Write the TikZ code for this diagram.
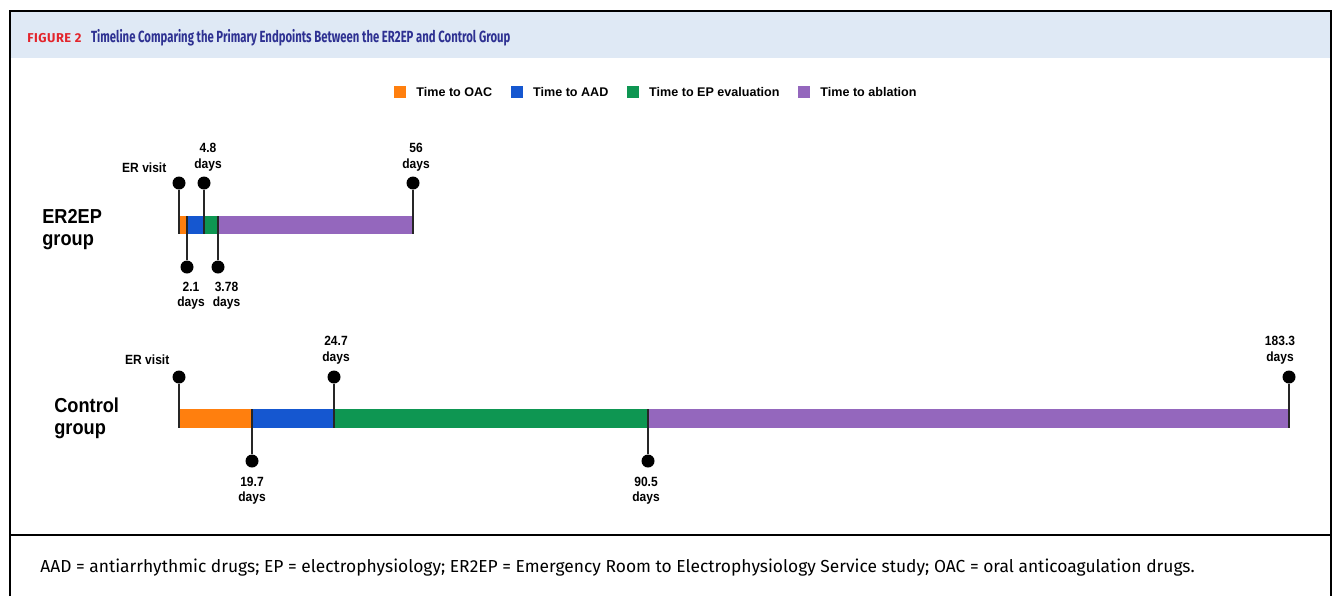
\documentclass[tikz,border=0pt]{standalone}
\usepackage{fontspec}
\setmainfont{Liberation Sans}
\newfontfamily\labelfont[FakeStretch=0.9]{Liberation Sans}
\newfontfamily\headfont[LetterSpace=4]{Fira Sans}
\newfontfamily\captionfont[FakeStretch=0.7]{Fira Sans}
\newfontfamily\notefont{Fira Sans}
\usepackage{xcolor}
\usepackage{tikz}
\usetikzlibrary{positioning}

\definecolor{oaccolor}{HTML}{FF7F0E}
\definecolor{aadcolor}{HTML}{1557D0}
\definecolor{epcolor}{HTML}{0E9652}
\definecolor{ablcolor}{HTML}{9467BD}
\definecolor{headerbg}{HTML}{DFE9F5}
\definecolor{figred}{HTML}{E3242B}
\definecolor{titleblue}{HTML}{2E3192}

\begin{document}
\begin{tikzpicture}[
        x=0.02cm, y=-0.02cm,
        pin/.style={circle, fill=black, inner sep=0pt, minimum size=0.26cm},
        stem/.style={draw=black!85, line width=0.7pt},
        tag/.style={font=\labelfont\bfseries\fontsize{7.6}{8.6}\selectfont, align=center, inner sep=0pt},
        grouplabel/.style={font=\labelfont\bfseries\fontsize{11.5}{12.6}\selectfont, align=left, inner sep=0pt, anchor=west},
        keybox/.style={minimum size=0.23cm, inner sep=0pt},
        keytext/.style={font=\bfseries\fontsize{7.15}{9}\selectfont, inner sep=0pt},
        frame/.style={line width=1.1pt}
    ]
    \useasboundingbox (0,0) rectangle (1337,596);

    % Rahmen und Kopfzeile
    \fill[headerbg] (10,11) rectangle (1331,58);
    \draw[frame] (10,596) -- (10,11) -- (1331,11) -- (1331,596);
    \draw[frame] (10,535) -- (1331,535);

    % Titel
    \node[anchor=base west, inner sep=0pt, text=figred, font=\headfont\bfseries\fontsize{7.3}{9}\selectfont] (fignum) at (27,42) {FIGURE 2};
    \node[base right=0.18cm of fignum, inner sep=0pt, text=titleblue, font=\captionfont\bfseries\fontsize{9.2}{11}\selectfont] (figtitle) {Timeline Comparing the Primary Endpoints Between the ER2EP and Control Group};

    % Legende
    \node[keybox, fill=oaccolor] (keyOAC) at (400,92) {};
    \node[keytext, right=0.2cm of keyOAC] (textOAC) {Time to OAC};
    \node[keybox, fill=aadcolor, right=0.36cm of textOAC] (keyAAD) {};
    \node[keytext, right=0.2cm of keyAAD] (textAAD) {Time to AAD};
    \node[keybox, fill=epcolor, right=0.36cm of textAAD] (keyEP) {};
    \node[keytext, right=0.2cm of keyEP] (textEP) {Time to EP evaluation};
    \node[keybox, fill=ablcolor, right=0.36cm of textEP] (keyAbl) {};
    \node[keytext, right=0.2cm of keyAbl] (textAbl) {Time to ablation};

    % ER2EP-Gruppe
    \node[grouplabel] (erGroup) at (42,230) {ER2EP\\group};
    \fill[oaccolor] (179,216) rectangle (187,234);
    \fill[aadcolor] (187,216) rectangle (204,234);
    \fill[epcolor] (204,216) rectangle (218,234);
    \fill[ablcolor] (218,216) rectangle (413,234);

    \node[pin] (erVisit) at (179,183) {};
    \node[pin] (erOAC) at (187,267) {};
    \node[pin] (erAAD) at (204,183) {};
    \node[pin] (erEP) at (218,267) {};
    \node[pin] (erAbl) at (413,183) {};
    \coordinate (erVisitEnd) at (179,234);
    \coordinate (erOACEnd) at (187,216);
    \coordinate (erAADEnd) at (204,234);
    \coordinate (erEPEnd) at (218,216);
    \coordinate (erAblEnd) at (413,234);
    \draw[stem] (erVisit) -- (erVisitEnd);
    \draw[stem] (erOAC) -- (erOACEnd);
    \draw[stem] (erAAD) -- (erAADEnd);
    \draw[stem] (erEP) -- (erEPEnd);
    \draw[stem] (erAbl) -- (erAblEnd);

    \node[tag, above left=0.11cm and 0.15cm of erVisit] (erVisitLab) {ER visit};
    \node[tag, above=0.1cm of erAAD, xshift=0.08cm] (erAADLab) {4.8\\days};
    \node[tag, above=0.1cm of erAbl, xshift=0.06cm] (erAblLab) {56\\days};
    \node[tag, below=0.16cm of erOAC, xshift=0.08cm] (erOACLab) {2.1\\days};
    \node[tag, below=0.16cm of erEP, xshift=0.17cm] (erEPLab) {3.78\\days};

    % Kontrollgruppe
    \node[grouplabel] (ctGroup) at (54,418) {Control\\group};
    \fill[oaccolor] (179,409) rectangle (252,428);
    \fill[aadcolor] (252,409) rectangle (334,428);
    \fill[epcolor] (334,409) rectangle (648,428);
    \fill[ablcolor] (648,409) rectangle (1289,428);

    \node[pin] (ctVisit) at (179,377) {};
    \node[pin] (ctOAC) at (252,461) {};
    \node[pin] (ctAAD) at (334,377) {};
    \node[pin] (ctEP) at (648,461) {};
    \node[pin] (ctAbl) at (1289,377) {};
    \coordinate (ctVisitEnd) at (179,428);
    \coordinate (ctOACEnd) at (252,409);
    \coordinate (ctAADEnd) at (334,428);
    \coordinate (ctEPEnd) at (648,409);
    \coordinate (ctAblEnd) at (1289,428);
    \draw[stem] (ctVisit) -- (ctVisitEnd);
    \draw[stem] (ctOAC) -- (ctOACEnd);
    \draw[stem] (ctAAD) -- (ctAADEnd);
    \draw[stem] (ctEP) -- (ctEPEnd);
    \draw[stem] (ctAbl) -- (ctAblEnd);

    \node[tag, above left=0.14cm and 0.09cm of ctVisit] (ctVisitLab) {ER visit};
    \node[tag, above=0.12cm of ctAAD, xshift=0.04cm] (ctAADLab) {24.7\\days};
    \node[tag, above=0.12cm of ctAbl, xshift=-0.18cm] (ctAblLab) {183.3\\days};
    \node[tag, below=0.18cm of ctOAC] (ctOACLab) {19.7\\days};
    \node[tag, below=0.18cm of ctEP, xshift=-0.04cm] (ctEPLab) {90.5\\days};

    % Fussnote
    \node[anchor=base west, inner sep=0pt, font=\notefont\fontsize{9.9}{12}\selectfont] (footnote) at (40,572) {AAD = antiarrhythmic drugs; EP = electrophysiology; ER2EP = Emergency Room to Electrophysiology Service study; OAC = oral anticoagulation drugs.};

\end{tikzpicture}
\end{document}
